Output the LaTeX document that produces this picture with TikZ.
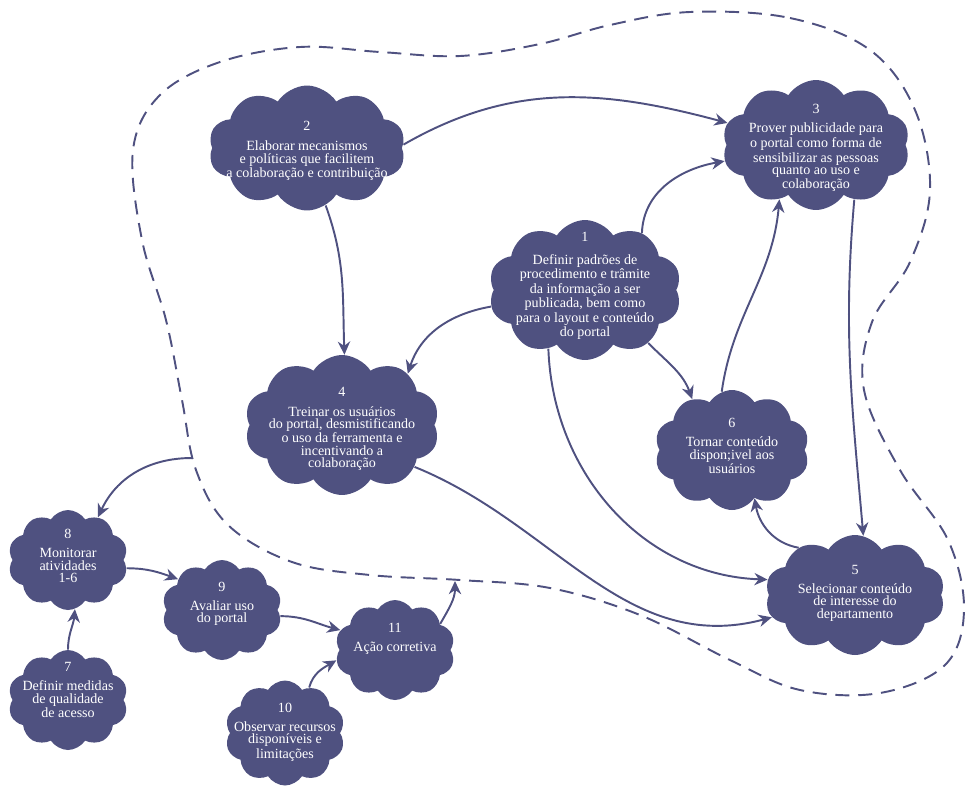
\documentclass[tikz,border=0pt]{standalone}
\usepackage{fontspec}
\setmainfont{Liberation Serif}
\usetikzlibrary{shapes.symbols,arrows.meta}

\definecolor{cloudblue}{RGB}{79,81,128}

\tikzset{
  blob/.style={cloud, cloud puffs=10, cloud puff arc=115, cloud ignores aspect,
    fill=cloudblue, draw=none, inner sep=0pt},
  blobtext/.style={text=white, align=center, font=\fontsize{8}{7}\selectfont},
  link/.style={draw=cloudblue, line width=1.1pt, -{Stealth[length=7.5pt,width=7pt]}},
  border/.style={draw=cloudblue, line width=1.1pt, dash pattern=on 8pt off 5pt}
}

\begin{document}
\begin{tikzpicture}[x=0.02cm,y=-0.02cm]
\useasboundingbox (0,0) rectangle (969,785);

% region boundary
\draw[border] plot[smooth cycle, tension=0.6] coordinates {
  (690,12) (790,18) (870,50) (915,110) (930,190) (910,262) (872,322)
  (864,390) (900,470) (948,540) (964,610) (945,665) (880,693) (800,690)
  (730,660) (640,615) (550,588) (460,580) (370,575) (292,562) (228,525)
  (196,470) (182,400) (166,320) (142,240) (133,150) (160,95) (220,62)
  (300,47) (380,52) (460,56) (540,44) (610,25)};
\coordinate (bL) at (192,458);
\coordinate (bB) at (455,581);

% clouds
\node[blob, minimum width=3.94cm, minimum height=2.5cm] (p2) at (307,148) {};
\node[blob, minimum width=3.76cm, minimum height=2.6cm] (p3) at (816,145) {};
\node[blob, minimum width=3.86cm, minimum height=2.8cm] (p1) at (585,290) {};
\node[blob, minimum width=3.9cm, minimum height=2.8cm] (p4) at (342,425) {};
\node[blob, minimum width=3.1cm, minimum height=2.4cm] (p6) at (732,450) {};
\node[blob, minimum width=3.6cm, minimum height=2.4cm] (p5) at (855,595) {};
\node[blob, minimum width=2.4cm, minimum height=2cm] (p8) at (68,560) {};
\node[blob, minimum width=2.4cm, minimum height=2cm] (p9) at (222,610) {};
\node[blob, minimum width=2.4cm, minimum height=2cm] (p11) at (395,650) {};
\node[blob, minimum width=2.4cm, minimum height=2cm] (p7) at (68,700) {};
\node[blob, minimum width=2.4cm, minimum height=2.1cm] (p10) at (285,733) {};

% texts
\node[blobtext] (t2) at (307,151) {2\\[4.5pt]Elaborar mecanismos\\e políticas que facilitem\\a colaboração e contribuição};
\node[blobtext] (t3) at (816,148) {3\\[4pt]Prover publicidade para\\o portal como forma de\\sensibilizar as pessoas\\quanto ao uso e\\colaboração};
\node[blobtext] (t1) at (585,286) {1\\[6pt]Definir padrões de\\procedimento e trâmite\\da informação a ser\\publicada, bem como\\para o layout e conteúdo\\do portal};
\node[blobtext] (t4) at (342,429) {4\\[4pt]Treinar os usuários\\do portal, desmistificando\\o uso da ferramenta e\\incentivando a\\colaboração};
\node[blobtext] (t6) at (732,446) {6\\[4pt]Tornar conteúdo\\dispon;ivel aos\\usuários};
\node[blobtext] (t5) at (855,593) {5\\[4pt]Selecionar conteúdo\\de interesse do\\departamento};
\node[blobtext] (t8) at (68,556) {8\\[4pt]Monitorar\\atividades\\1-6};
\node[blobtext] (t9) at (222,604) {9\\[4pt]Avaliar uso\\do portal};
\node[blobtext] (t11) at (395,639) {11\\[4pt]Ação corretiva};
\node[blobtext] (t7) at (68,690) {7\\[4pt]Definir medidas\\de qualidade\\de acesso};
\node[blobtext] (t10) at (285,732) {10\\[4pt]Observar recursos\\disponíveis e\\limitações};

% connectors
\draw[link] (p2.2) to[out=30,in=165] (p3.166);
\draw[link] (p1.45) to[out=88,in=190] (p3.190);
\draw[link] (p2.-72) to[out=-70,in=92] (p4.88);
\draw[link] (p1.190) to[out=190,in=72] (p4.38);
\draw[link] (p1.-40) to[out=-45,in=110] (p6.128);
\draw[link] (p1.-122) to[out=-88,in=178] (p5.170);
\draw[link] (p4.-30) to[out=-22,in=195] (p5.195);
\draw[link] (p6.100) to[out=82,in=-95] (p3.236);
\draw[link] (p3.-55) to[out=-95,in=95] (p5.82);
\draw[link] (p5.140) to[out=170,in=-80] (p6.-65);
\draw[link] (bL) to[out=180,in=65] (p8.55);
\draw[link] (p8.-8) to[out=0,in=160] (p9.145);
\draw[link] (p9.-6) to[out=0,in=165] (p11.160);
\draw[link] (p10.62) to[out=75,in=210] (p11.190);
\draw[link] (p7.90) to[out=90,in=-95] (p8.-82);
\draw[link] (p11.30) to[out=60,in=-90] (bB);
\end{tikzpicture}
\end{document}
